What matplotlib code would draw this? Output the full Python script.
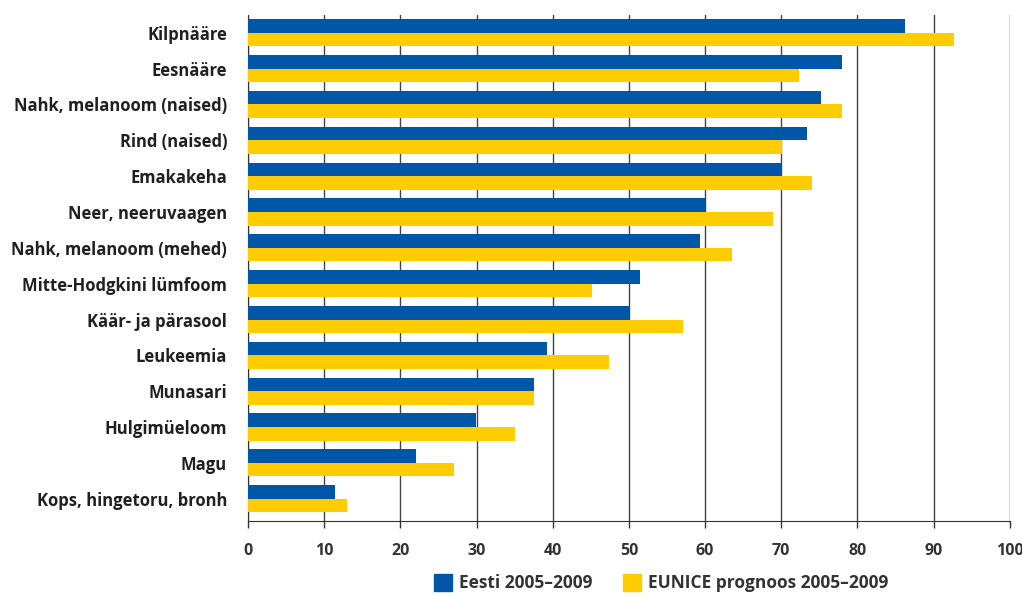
import numpy as np
import matplotlib.pyplot as plt
from matplotlib.patches import Patch

categories = ['Kilpnääre', 'Eesnääre', 'Nahk, melanoom (naised)', 'Rind (naised)',
              'Emakakeha', 'Neer, neeruvaagen', 'Nahk, melanoom (mehed)',
              'Mitte-Hodgkini lümfoom', 'Käär- ja pärasool', 'Leukeemia',
              'Munasari', 'Hulgimüeloom', 'Magu', 'Kops, hingetoru, bronh']
eesti = [86.2, 78.0, 75.2, 73.4, 70.1, 60.0, 59.3, 51.4, 50.0, 39.2, 37.5, 29.9, 22.0, 11.4]
eunice = [92.7, 72.3, 78.0, 70.1, 74.0, 68.9, 63.6, 45.1, 57.1, 47.4, 37.5, 35.0, 27.0, 13.0]

blue = '#0057a7'
yellow = '#ffcc00'
plt.rcParams['font.family'] = ['Open Sans', 'DejaVu Sans']

fig = plt.figure(figsize=(10.22, 5.96), dpi=100)
ax = fig.add_axes([0.2427, 0.126, 0.7453, 0.849])

y = np.arange(len(categories))
h = 0.38
ax.barh(y - h / 2, eesti, height=h, color=blue, zorder=3)
ax.barh(y + h / 2, eunice, height=h, color=yellow, zorder=3)

ax.set_xlim(0, 100)
ax.set_ylim(13.62, -0.5)
ax.set_xticks(range(0, 101, 10))
ax.set_yticks(y)
ax.set_yticklabels(categories, fontsize=12, fontweight='bold', color='#231f20')
ax.tick_params(axis='y', length=0, pad=15)
ax.tick_params(axis='x', length=5, width=1, color='#333333', labelsize=11.5, pad=11,
               labelcolor='#333333')
for lbl in ax.get_xticklabels():
    lbl.set_fontweight('bold')
ax.grid(axis='x', color='#444444', linewidth=1, zorder=0)
for s in ['top', 'right']:
    ax.spines[s].set_visible(False)
ax.spines['left'].set_color('#333333')
ax.spines['bottom'].set_color('#333333')

handles = [Patch(color=blue, label='Eesti 2005–2009'),
           Patch(color=yellow, label='EUNICE prognoos 2005–2009')]
leg = fig.legend(handles=handles, loc='lower center', bbox_to_anchor=(0.647, -0.02), ncol=2,
                 frameon=False, prop={'size': 12.5, 'weight': 'bold'},
                 handlelength=1.0, handleheight=1.1, handletextpad=0.4, columnspacing=1.8)
for t in leg.get_texts():
    t.set_color('#333333')

fig.savefig('out.png', dpi=100)
